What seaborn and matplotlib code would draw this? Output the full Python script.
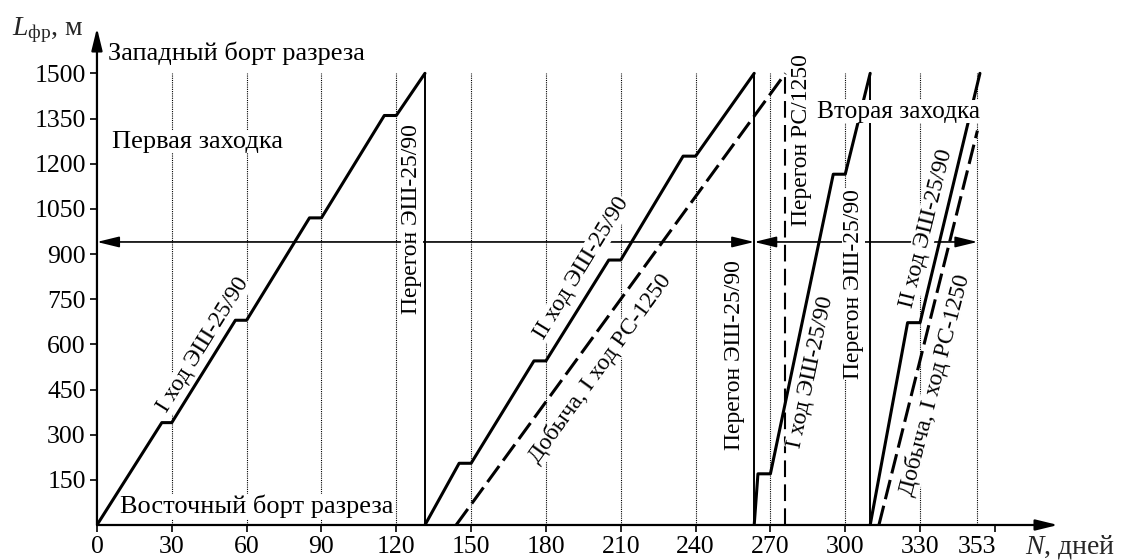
import matplotlib
matplotlib.use("Agg")
import matplotlib.pyplot as plt
import pandas as pd
import seaborn as sns

# ---- data: N (days), L (metres) ----
# first entry, I pass ESh-25/90
pass1_n = [0, 26, 30, 55.5, 60, 85.2, 90, 115.2, 120, 131.5]
pass1_l = [0, 340, 340, 680, 680, 1020, 1020, 1360, 1360, 1500]
# first entry, II pass ESh-25/90
pass2_n = [131.5, 145.2, 150, 175.2, 180, 205.2, 210, 235, 240, 263.5]
pass2_l = [0, 205, 205, 545, 545, 880, 880, 1225, 1225, 1500]
# second entry, I pass ESh-25/90
pass3_n = [263.5, 265, 270, 295.2, 300, 310]
pass3_l = [0, 170, 170, 1165, 1165, 1500]
# second entry, II pass ESh-25/90
pass4_n = [310, 325, 330, 354]
pass4_l = [0, 672, 672, 1500]
# mining, I pass RS-1250 (dashed)
mine1_n = [144, 276]
mine1_l = [0, 1500]
mine2_n = [313.5, 353]
mine2_l = [0, 1310]
# transfers (vertical drops from 1500 to 0)
move_esh = [131.5, 263.5, 310]
move_rs = [276]
L_top = 1500
# dotted reference days
grid_days = [30, 60, 90, 120, 150, 180, 210, 240, 270, 300, 330, 353]
# entry spans (double arrows)
entry_bounds = [0, 263.5, 353]
entry_level = 940

x_ticks = [0, 30, 60, 90, 120, 150, 180, 210, 240, 270, 300, 330, 360]
x_labels = ["0", "30", "60", "90", "120", "150", "180", "210", "240", "270", "300", "330", ""]
y_ticks = [150, 300, 450, 600, 750, 900, 1050, 1200, 1350, 1500]

sns.set_theme(style="white")
plt.rcParams['font.family'] = ['Liberation Serif', 'DejaVu Serif']
plt.rcParams['mathtext.fontset'] = 'custom'
plt.rcParams['mathtext.rm'] = 'Liberation Serif'
plt.rcParams['mathtext.it'] = 'Liberation Serif:italic'

fig = plt.figure(figsize=(11.21, 5.6), dpi=100)
ax = fig.add_axes([0.0865, 0.0625, 0.8573, 0.8875])
FS = 19     # horizontal captions
RFS = 17    # rotated labels along tracks
TFS = 18.5  # tick labels


def track(n, l, ls="-"):
    df = pd.DataFrame({"N": n, "L": l})
    sns.lineplot(data=df, x="N", y="L", sort=False, estimator=None, ax=ax,
                 color="black", lw=2.2, linestyle=ls, zorder=3)


solid_dash = (0, (6.5, 2.2))
for n, l in [(pass1_n, pass1_l), (pass2_n, pass2_l), (pass3_n, pass3_l), (pass4_n, pass4_l)]:
    track(n, l)
for n, l in [(mine1_n, mine1_l), (mine2_n, mine2_l)]:
    track(n, l, solid_dash)

ax.vlines(move_esh, 0, L_top, colors="black", lw=1.4, zorder=3)
ax.vlines(move_rs, 0, L_top, colors="black", lw=1.5, linestyles=[(0, (8, 3.5))], zorder=3)
ax.vlines(grid_days, 0, L_top, colors="black", lw=0.8, linestyles=[(0, (1, 1))], zorder=1)

for a, b in zip(entry_bounds[:-1], entry_bounds[1:]):
    ax.annotate("", xy=(a, entry_level), xytext=(b, entry_level),
                arrowprops=dict(arrowstyle="<|-|>,head_length=0.9,head_width=0.22",
                                mutation_scale=15, lw=1.2, color="black",
                                shrinkA=0, shrinkB=0), zorder=2)

ax.set_xlim(0, 385.3)
ax.set_ylim(0, 1650.6)
ax.set_xlabel("")
ax.set_ylabel("")
for s in ax.spines.values():
    s.set_visible(False)

# axes with arrow heads
arr = dict(arrowstyle="-|>,head_length=0.9,head_width=0.22", mutation_scale=15,
           lw=1.6, color="black", shrinkA=0, shrinkB=0)
ax.annotate("", xy=(1, 0), xytext=(0, 0), xycoords="axes fraction", arrowprops=arr)
ax.annotate("", xy=(0, 1), xytext=(0, 0), xycoords="axes fraction", arrowprops=arr)

ax.set_xticks(x_ticks)
ax.set_xticklabels(x_labels)
ax.set_xticks([353], minor=True)
ax.set_xticklabels(["353"], minor=True)
ax.set_yticks(y_ticks)
ax.tick_params(which="major", bottom=True, left=True, direction="out", length=5,
               width=1.2, labelsize=TFS, colors="black", pad=3)
ax.tick_params(which="minor", bottom=True, length=0, labelsize=TFS, colors="black", pad=8)

box = dict(facecolor="white", edgecolor="none", pad=0.5)
txt = dict(color="black", zorder=5, bbox=box, clip_on=False)

ax.text(4.4, 1568, "Западный борт разреза", ha="left", va="center", fontsize=FS, **txt)
ax.text(5.9, 1273, "Первая заходка", ha="left", va="center", fontsize=FS, **txt)
ax.text(9.2, 61, "Восточный борт разреза", ha="left", va="center", fontsize=FS, **txt)
ax.text(288.6, 1373, "Вторая заходка", ha="left", va="center", fontsize=18.3, **txt)

labels = [
    ("I ход ЭШ-25/90", 42.5, 598, 58),
    ("II ход ЭШ-25/90", 194.3, 853, 58.5),
    ("Добыча, I ход РС-1250", 201.7, 521, 54),
    ("Перегон ЭШ-25/90", 126.2, 1016, 90),
    ("Перегон ЭШ-25/90", 255.8, 565, 90),
    ("Перегон РС/1250", 282.5, 1279, 90),
    ("I ход ЭШ-25/90", 286.3, 508, 78),
    ("Перегон ЭШ-25/90", 303.3, 800, 90),
    ("II ход ЭШ-25/90", 332.4, 986, 76),
    ("Добыча, I ход РС-1250", 336, 465, 75.5),
]
for s, x, y, r in labels:
    ax.text(x, y, s, rotation=r, rotation_mode="anchor", ha="center", va="center",
            fontsize=RFS, **txt)

fig.text(12 / 1121, 1 - 30 / 560, r"$L_{\mathrm{фр}}$, м", fontsize=FS + 1, ha="left", va="center")
fig.text(1025 / 1121, 1 - 547 / 560, r"$N$, дней", fontsize=FS + 1, ha="left", va="center")

fig.savefig("out.png", dpi=100)
